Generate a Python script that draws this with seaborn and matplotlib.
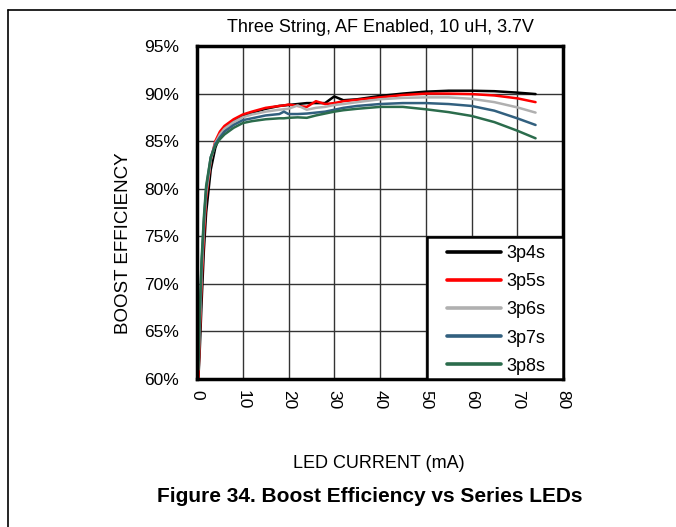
import numpy as np
import pandas as pd
import seaborn as sns
import matplotlib
matplotlib.use("Agg")
import matplotlib.pyplot as plt
from matplotlib.lines import Line2D
from matplotlib.patches import Rectangle

# LED current (mA) sample points shared by all series
current = [0.3, 0.6, 1.0, 1.5, 2.0, 3.0, 4.0, 5.0, 6.0, 8.0, 10, 12, 15, 18, 19, 20,
           22, 24, 26, 28, 30, 32, 35, 40, 45, 50, 55, 60, 65, 70, 74]

# Boost efficiency (%) per LED configuration
eff_3p4s = [60.0, 63.0, 68.0, 73.5, 77.5, 82.0, 84.3, 85.6, 86.3, 87.1, 87.7, 88.0, 88.4, 88.7, 88.75, 88.8,
            88.9, 89.0, 89.0, 89.0, 89.7, 89.3, 89.4, 89.75, 90.0, 90.2, 90.3, 90.3, 90.25, 90.1, 89.95]
eff_3p5s = [60.0, 64.5, 70.0, 75.0, 79.0, 83.0, 85.0, 86.0, 86.6, 87.3, 87.8, 88.1, 88.5, 88.7, 88.75, 88.85,
            88.7, 88.6, 89.2, 88.9, 89.0, 89.2, 89.35, 89.6, 89.85, 90.0, 90.0, 89.95, 89.8, 89.5, 89.1]
eff_3p6s = [61.0, 65.5, 71.0, 76.0, 79.5, 83.0, 84.8, 85.7, 86.3, 87.0, 87.5, 87.8, 88.1, 88.3, 88.35, 88.4,
            88.75, 88.3, 88.5, 88.6, 88.8, 88.9, 89.1, 89.4, 89.55, 89.6, 89.6, 89.45, 89.1, 88.55, 88.0]
eff_3p7s = [62.0, 66.5, 72.0, 76.5, 80.0, 83.3, 84.7, 85.4, 86.0, 86.7, 87.2, 87.4, 87.7, 87.85, 88.1, 87.85,
            87.85, 87.9, 88.0, 88.1, 88.3, 88.5, 88.7, 88.9, 89.0, 89.0, 88.9, 88.7, 88.2, 87.4, 86.7]
eff_3p8s = [61.0, 67.0, 72.5, 77.0, 80.3, 83.3, 84.5, 85.2, 85.7, 86.4, 86.9, 87.1, 87.3, 87.4, 87.4, 87.45,
            87.5, 87.45, 87.7, 87.9, 88.1, 88.25, 88.4, 88.6, 88.6, 88.35, 88.05, 87.65, 87.0, 86.1, 85.3]

series_names = ["3p4s", "3p5s", "3p6s", "3p7s", "3p8s"]
series_values = [eff_3p4s, eff_3p5s, eff_3p6s, eff_3p7s, eff_3p8s]
colors = ["#000000", "#ff0000", "#b0b0b0", "#32607f", "#2b6c4c"]

y_ticks = [60, 65, 70, 75, 80, 85, 90, 95]
y_tick_labels = ["60%", "65%", "70%", "75%", "80%", "85%", "90%", "95%"]
x_ticks = [0, 10, 20, 30, 40, 50, 60, 70, 80]

df = pd.concat(
    [pd.DataFrame({"current": current, "eff": vals, "config": name})
     for name, vals in zip(series_names, series_values)],
    ignore_index=True,
)

sns.set_style("white")
plt.rcParams["font.family"] = ["Liberation Sans", "DejaVu Sans"]
plt.rcParams["text.color"] = "black"
plt.rcParams["xtick.color"] = "black"
plt.rcParams["ytick.color"] = "black"

fig = plt.figure(figsize=(6.76, 5.27), dpi=100)
ax = fig.add_axes([197 / 676, 1 - 379 / 527, 366 / 676, 333 / 527])

palette = dict(zip(series_names, colors))
sns.lineplot(data=df, x="current", y="eff", hue="config", palette=palette,
             estimator=None, sort=False, linewidth=1.8, ax=ax, legend=False)

ax.set_xlim(0, 80)
ax.set_ylim(60, 95)
ax.set_xticks(x_ticks)
ax.set_xticklabels([str(t) for t in x_ticks], rotation=-90, fontsize=12.5)
ax.set_yticks(y_ticks)
ax.set_yticklabels(y_tick_labels, fontsize=12.5)
ax.tick_params(axis="y", length=0, pad=13, labelcolor="black")
ax.tick_params(axis="x", length=0, pad=8, labelcolor="black")
ax.grid(True, color="#333333", linewidth=1.0)
ax.set_axisbelow(True)
for sp in ax.spines.values():
    sp.set_color("black")
    sp.set_linewidth(2.5)

ax.set_xlabel("")
ax.set_ylabel("")
fig.text(124 / 676, 1 - 243 / 527, "BOOST EFFICIENCY", rotation=90,
         ha="center", va="center", fontsize=13.5, color="black")
fig.text(379 / 676, 1 - 464 / 527, "LED CURRENT (mA)", ha="center", va="center",
         fontsize=13, color="black")
fig.text(380 / 676, 1 - 28 / 527, "Three String, AF Enabled, 10 uH, 3.7V",
         ha="center", va="center", fontsize=13, color="black")
fig.text(370 / 676, 1 - 497 / 527, "Figure 34. Boost Efficiency vs Series LEDs",
         ha="center", va="center", fontsize=15, fontweight="bold", color="black")

# legend box drawn as a white panel in the lower right of the plot
box_x0 = (427 - 197) / 366
box_h = (379 - 237) / 333
ax.add_patch(Rectangle((box_x0, 0), 1 - box_x0, box_h, transform=ax.transAxes,
                       facecolor="white", edgecolor="black", linewidth=1.8, zorder=5,
                       clip_on=False))
handles = [Line2D([0], [0], color=c, linewidth=2.6) for c in colors]
leg = ax.legend(handles, series_names, loc="upper left",
                bbox_to_anchor=((447 - 197) / 366, (379 - 245) / 333),
                borderaxespad=0, borderpad=0, frameon=False,
                fontsize=13, handlelength=3.0, handletextpad=0.3,
                labelspacing=0.62, labelcolor="black")
leg.set_zorder(6)

# page border lines on the left and top
fig.add_artist(Line2D([8 / 676, 8 / 676], [0, 1 - 10 / 527], color="black", linewidth=1.2,
                      transform=fig.transFigure))
fig.add_artist(Line2D([8 / 676, 1], [1 - 10 / 527, 1 - 10 / 527], color="black", linewidth=1.2,
                      transform=fig.transFigure))

fig.savefig("out.png", dpi=100)
